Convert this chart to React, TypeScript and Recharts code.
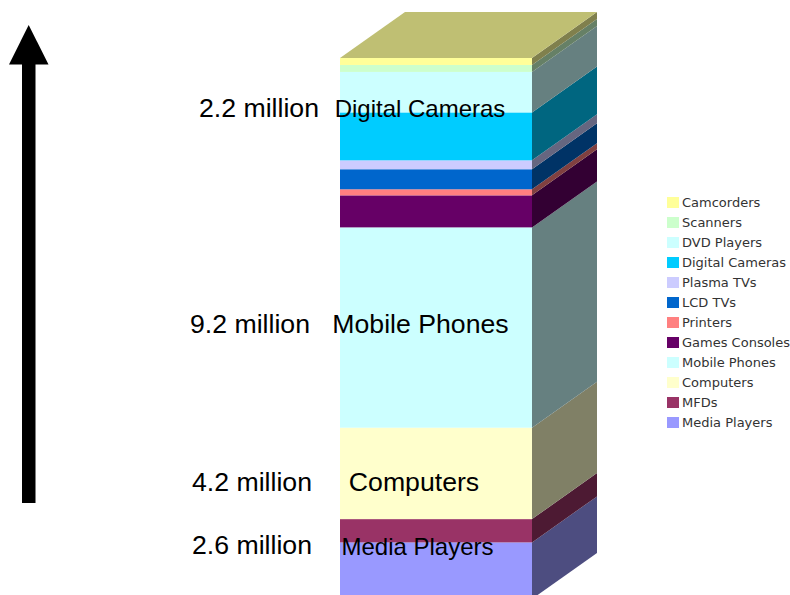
import { Bar, BarChart, Legend, XAxis, YAxis } from "recharts";

// sales by product group, millions of units, top of the stack first
const categories = [
  "Camcorders",
  "Scanners",
  "DVD Players",
  "Digital Cameras",
  "Plasma TVs",
  "LCD TVs",
  "Printers",
  "Games Consoles",
  "Mobile Phones",
  "Computers",
  "MFDs",
  "Media Players",
];
const units = [0.32, 0.32, 1.86, 2.2, 0.41, 0.92, 0.28, 1.47, 9.2, 4.2, 1.07, 2.6];
const colors = [
  "#FFFF99",
  "#CCFFCC",
  "#CCFFFF",
  "#00CCFF",
  "#CCCCFF",
  "#0066CC",
  "#FF8080",
  "#660066",
  "#CCFFFF",
  "#FFFFCC",
  "#993366",
  "#9999FF",
];

const total = units.reduce((a, b) => a + b, 0);
const row: Record<string, number | string> = { name: "Units" };
categories.forEach((c, i) => {
  row[c] = units[i];
});
const data = [row];

// how far the extruded faces run back and up
const DEPTH_X = 65;
const DEPTH_Y = 46;

function shade(hex: string, k: number) {
  const n = parseInt(hex.slice(1), 16);
  const ch = (s: number) => Math.round(((n >> s) & 255) * k);
  return `rgb(${ch(16)},${ch(8)},${ch(0)})`;
}

function Block(props: any) {
  const { x, y, width, height, fill, isTop } = props;
  const r = x + width;
  const b = y + height;
  return (
    <g>
      <rect x={x} y={y} width={width} height={height} fill={fill} />
      <polygon
        points={`${r},${y} ${r + DEPTH_X},${y - DEPTH_Y} ${r + DEPTH_X},${b - DEPTH_Y} ${r},${b}`}
        fill={shade(fill, 0.5)}
      />
      {isTop && (
        <polygon
          points={`${x},${y} ${x + DEPTH_X},${y - DEPTH_Y} ${r + DEPTH_X},${y - DEPTH_Y} ${r},${y}`}
          fill={shade(fill, 0.75)}
        />
      )}
    </g>
  );
}

function LegendList() {
  return (
    <div style={{ fontFamily: "'DejaVu Sans', sans-serif", fontSize: 13, color: "#333" }}>
      {categories.map((c, i) => (
        <div key={c} style={{ display: "flex", alignItems: "center", height: 20, whiteSpace: "nowrap" }}>
          <span style={{ width: 12, height: 11, background: colors[i], marginRight: 3, flex: "none" }} />
          {c}
        </div>
      ))}
    </div>
  );
}

// called-out groups: the value goes left of the stack, the name over it
const callouts = [
  { name: "Digital Cameras", y: 108, nameX: 420, valueX: 259, valueY: 108, nameSize: 24 },
  { name: "Mobile Phones", y: 324, nameX: 420.5, valueX: 250, valueY: 324, nameSize: 26.67 },
  { name: "Computers", y: 482, nameX: 414, valueX: 252, valueY: 482, nameSize: 26.67 },
  { name: "Media Players", y: 546, nameX: 417.5, valueX: 252, valueY: 545, nameSize: 24 },
];

const labelFont = "'Liberation Sans', Arial, sans-serif";

export default function App() {
  return (
    <div style={{ position: "absolute", left: 0, top: 0, width: 790, height: 595, overflow: "hidden", background: "#fff" }}>
      <BarChart
        width={790}
        height={620}
        data={data}
        barCategoryGap={0}
        margin={{ top: 58, right: 258, bottom: 21, left: 340 }}
      >
        <XAxis dataKey="name" hide />
        <YAxis hide domain={[0, total]} />
        {[...categories].reverse().map((c) => {
          const i = categories.indexOf(c);
          return (
            <Bar
              key={c}
              dataKey={c}
              stackId="a"
              fill={colors[i]}
              isAnimationActive={false}
              shape={(p: any) => <Block {...p} fill={colors[i]} isTop={i === 0} />}
            />
          );
        })}
        {/* vertical + center + middle keeps the legend from shrinking the plot */}
        <Legend
          layout="vertical"
          align="center"
          verticalAlign="middle"
          content={() => <LegendList />}
          wrapperStyle={{ position: "absolute", left: 667, top: 192, width: 130, bottom: "auto", right: "auto" }}
        />
      </BarChart>
      {/* arrow and callouts sit above the stack */}
      <svg width={790} height={595} style={{ position: "absolute", left: 0, top: 0, pointerEvents: "none" }}>
        <rect x={22} y={60} width={13.5} height={443} fill="#000" />
        <polygon points="28.7,25 48.5,64.5 9,64.5" fill="#000" />
        {callouts.map((c) => (
          <g key={c.name} fontFamily={labelFont} fill="#000">
            <text x={c.nameX} y={c.y} fontSize={c.nameSize} textAnchor="middle" dominantBaseline="central">
              {c.name}
            </text>
            <text x={c.valueX} y={c.valueY} fontSize={26.67} textAnchor="middle" dominantBaseline="central">
              {`${units[categories.indexOf(c.name)]} million`}
            </text>
          </g>
        ))}
      </svg>
    </div>
  );
}
